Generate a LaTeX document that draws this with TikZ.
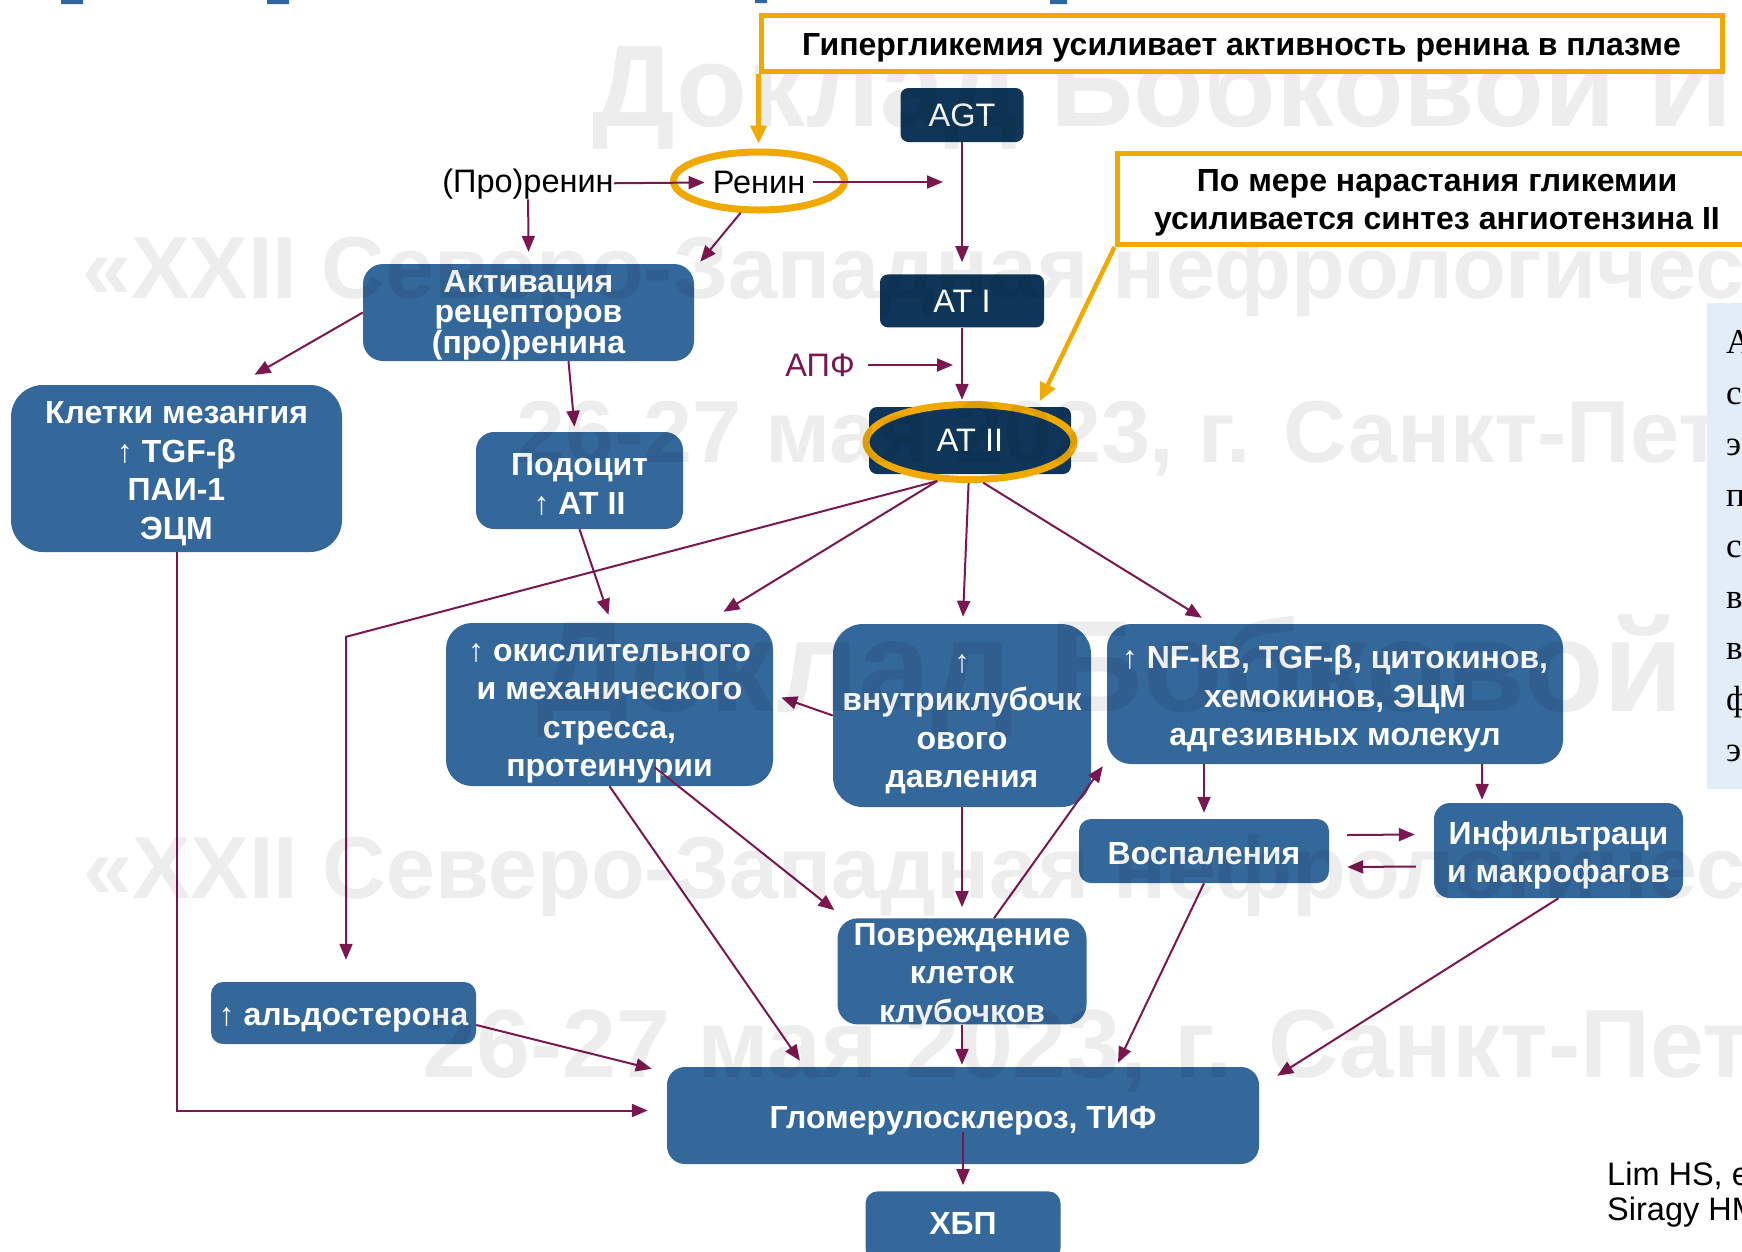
\documentclass[tikz,border=0pt]{standalone}
\usepackage{fontspec}
\setmainfont{Liberation Sans}
\newfontfamily\panelfont{Liberation Serif}
\usetikzlibrary{shapes,arrows,arrows.meta,calc,positioning}

\definecolor{boxblue}{HTML}{34679A}
\definecolor{navy}{HTML}{0F3659}
\definecolor{plum}{HTML}{7A1750}
\definecolor{gold}{HTML}{EFA900}
\definecolor{panel}{HTML}{E2EDF8}
\definecolor{titleblue}{HTML}{2D66A3}

\begin{document}
\begin{tikzpicture}[
    x=1pt, y=-1pt,
    >={Triangle[length=16pt,width=13pt]},
    every node/.style={inner sep=0pt, font=\fontsize{32.5}{38}\selectfont},
    box/.style={rectangle, rounded corners=18pt, fill=boxblue, text=white, align=center,
        font=\bfseries\fontsize{32}{38.5}\selectfont},
    dark/.style={rectangle, rounded corners=8pt, fill=navy, text=white},
    note/.style={rectangle, draw=gold, line width=5pt, fill=white, align=center,
        font=\bfseries\fontsize{32}{38}\selectfont},
    ring/.style={ellipse, draw=gold, line width=7pt},
    link/.style={->, draw=plum, line width=2pt},
    hint/.style={-{Triangle[length=18pt,width=16pt]}, draw=gold, line width=4.5pt},
    stamp/.style={anchor=base west, text=black, text opacity=0.07,
        font=\bfseries\fontsize{88}{88}\selectfont}
    ]
    \useasboundingbox (0,0) rectangle (1742,1251);
    % cut title
    \fill[titleblue] (61,0) rectangle (83,4) (267,0) rectangle (289,4)
        (755,0) rectangle (767,3) (1050,0) rectangle (1067,4);
    % RAS chain
    \node[dark, minimum width=123pt, minimum height=54pt] (agt) at (962,115) {AGT};
    \node[dark, minimum width=164pt, minimum height=53pt, below=132pt of agt] (at1) {AT I};
    \node[dark, minimum width=202pt, minimum height=67pt] (at2) at (970,440.5) {AT II};
    \node[ring, minimum width=208pt, minimum height=75pt] (at2ring) at (970,442) {};
    \node[text=plum] (apf) at (820,365) {АПФ};
    \node (prorenin) at (528,184) {(Про)ренин};
    \node[inner sep=8pt] (renin) at (759,182) {Ренин};
    \node[ring, minimum width=171pt, minimum height=58pt] (rring) at (759,181) {};
    \coordinate (agtjoin) at ($(renin -| agt)+(-19,0)$);
    \coordinate (apfjoin) at ($(apf -| at1)+(-9,0)$);
    \draw[link] (prorenin) -- (renin);
    \draw[link] (renin) -- (agtjoin);
    \draw[link] (agt) -- ($(at1.north)+(0,-12)$);
    \draw[link] ($(apf.east)+(13,0)$) -- (apfjoin);
    \draw[link] (at1.south) -- ($(at2.north -| at1.south)+(0,-7)$);
    % (pro)renin receptor
    \node[box, rounded corners=20pt, minimum width=331pt, minimum height=97pt, text height=88pt,
        font=\bfseries\fontsize{32}{30.5}\selectfont] (act) at (528.5,312.5)
        {Активация\\рецепторов\\(про)ренина};
    \node[box, rounded corners=32pt, minimum width=331pt, minimum height=167pt, text height=148pt] (mes)
        at (176.5,468.5) {Клетки мезангия\\↑ TGF-β\\ПАИ-1\\ЭЦМ};
    \node[box, minimum width=207pt, minimum height=97pt, text height=68pt] (pod) at (579.5,480.5)
        {Подоцит\\↑ AT II};
    \draw[link] (prorenin) -- ($(act.north)+(0,-12)$);
    \draw[link] (rring.240) -- ($(act.north east)+(6,-2)$);
    \draw[link] (act.west) -- ($(mes.north)+(78,-10)$);
    \draw[link] ($(act.south)+(40,0)$) -- ($(pod.north)+(-5,-5)$);
    % effects of AT II
    \node[box, rounded corners=26pt, minimum width=327pt, minimum height=163pt, text height=151pt] (ox)
        at (609.5,704.5) {↑ окислительного\\и механического\\стресса,\\протеинурии};
    \node[box, rounded corners=30pt, minimum width=258pt, minimum height=183pt, text height=151pt] (press)
        at (962,715.5) {↑\\внутриклубочк\\ового\\давления};
    \node[box, rounded corners=24pt, minimum width=456pt, minimum height=140pt, text height=110pt] (nfkb)
        at (1335,694) {↑ NF-kB, TGF-β, цитокинов,\\хемокинов, ЭЦМ\\адгезивных молекул};
    \node[box, rounded corners=12pt, minimum width=250pt, minimum height=64pt, text height=27pt] (infl)
        at (1204,851) {Воспаления};
    \node[box, rounded corners=16pt, minimum width=249pt, minimum height=95pt, text height=71pt] (infil)
        at (1558.5,850.5) {Инфильтраци\\и макрофагов};
    \node[box, rounded corners=20pt, minimum width=249pt, minimum height=106pt, text height=104pt,
        text depth=2pt, below=111pt of press] (dmg) {Повреждение\\клеток\\клубочков};
    \node[box, rounded corners=12pt, minimum width=265pt, minimum height=62pt, text height=32pt] (ald)
        at (343.5,1013) {↑ альдостерона};
    \coordinate (aldbend) at ($(ald.north)+(2.5,-345)$);
    \draw[link] (pod.south) -- ($(ox.north)+(-1,-8)$);
    \draw[link] (at2ring.230) -- ($(ox.north)+(114,-11)$);
    \draw[link] (at2ring.230) -- (aldbend) -- ($(ald.north)+(2.5,-22)$);
    \draw[link] (at2ring.268) -- ($(press.north)+(1,-7)$);
    \draw[link] (at2ring.288) -- ($(nfkb.north west)+(95,-6)$);
    \draw[link] (press.west) -- ($(ox.east)+(8,-7)$);
    \draw[link] (infl.north |- nfkb.south) -- ($(infl.north)+(0,-6)$);
    \draw[link] ($(nfkb.south east)+(-81,0)$) -- ($(infil.north)+(-76.5,-3)$);
    \draw[link] ($(infl.east)+(18,-16)$) -- ($(infil.west)+(-19,-16)$);
    \draw[link] ($(infil.west)+(-18,16)$) -- ($(infl.east)+(18,16)$);
    \draw[link] (press.south) -- ($(dmg.north)+(0,-11)$);
    \draw[link] ($(dmg.north)+(32,0)$) -- ($(nfkb.south west)+(-4,2)$);
    \draw[link] ($(ox.south)+(45,-19)$) -- ($(dmg.north west)+(-3,-8)$);
    % outcome
    \node[box, minimum width=592pt, minimum height=97pt, text height=32pt] (gs) at (963,1115.5)
        {Гломерулосклероз, ТИФ};
    \node[box, rounded corners=12pt, minimum width=195pt, minimum height=69pt, text height=17pt,
        below=27pt of gs] (ckd) {ХБП};
    \draw[link] (ox.south) -- ($(gs.north)+(-163,-6)$);
    \draw[link] (mes.south) |- ($(gs.west)+(-19,-5)$);
    \draw[link] ($(ald.east)+(0,12)$) -- ($(gs.north west)+(-15,2)$);
    \draw[link] (dmg.south) -- ($(dmg.south |- gs.north)+(0,-2)$);
    \draw[link] (infl.south) -- ($(gs.north)+(155,-4)$);
    \draw[link] (infil.south) -- ($(gs.north east)+(18,9)$);
    \draw[link] ($(gs.south)+(0,-32)$) -- ($(ckd.north)+(0,-6)$);
    % watermark
    \node[stamp, font=\bfseries\fontsize{116}{116}\selectfont] (wm1) at (592,126) {Доклад Бобковой И};
    \node[stamp] (wm2) at (82,298) {«XXII Северо-Западная нефрологичес};
    \node[stamp] (wm3) at (516,462) {26-27 мая 2023, г. Санкт-Пете};
    \node[stamp, font=\bfseries\fontsize{130}{130}\selectfont] (wm4) at (536,711) {Доклад Бобковой И};
    \node[stamp] (wm5) at (83,898) {«XXII Северо-Западная нефрологическ};
    \node[stamp, font=\bfseries\fontsize{97}{97}\selectfont] (wm6) at (422,1077) {26-27 мая 2023, г. Санкт-Пет};
    % hints
    \node[note, minimum width=961pt, minimum height=56pt, text height=31pt] (note1) at (1241.5,43)
        {Гипергликемия усиливает активность ренина в плазме};
    \node[note, minimum width=640pt, minimum height=91pt, text height=68pt] (note2) at (1437,199)
        {По мере нарастания гликемии\\усиливается синтез ангиотензина II};
    \draw[hint] (note1.south west) -- ($(note1.south west |- rring.north)+(0,-5)$);
    \draw[hint] (note2.south west) -- ($(at2ring.north east)+(-6,-12)$);
    % side panel
    \fill[panel] (1707,303) rectangle (1750,789);
    \node[anchor=base west, font=\panelfont\fontsize{35}{35}\selectfont] (pl0) at (1726,353) {А};
    \node[anchor=base west, font=\panelfont\fontsize{35}{35}\selectfont] (pl1) at (1726,404) {с};
    \node[anchor=base west, font=\panelfont\fontsize{35}{35}\selectfont] (pl2) at (1726,455) {э};
    \node[anchor=base west, font=\panelfont\fontsize{35}{35}\selectfont] (pl3) at (1726,506) {п};
    \node[anchor=base west, font=\panelfont\fontsize{35}{35}\selectfont] (pl4) at (1726,557) {с};
    \node[anchor=base west, font=\panelfont\fontsize{35}{35}\selectfont] (pl5) at (1726,608) {в};
    \node[anchor=base west, font=\panelfont\fontsize{35}{35}\selectfont] (pl6) at (1726,659) {в};
    \node[anchor=base west, font=\panelfont\fontsize{35}{35}\selectfont] (pl7) at (1726,710) {ф};
    \node[anchor=base west, font=\panelfont\fontsize{35}{35}\selectfont] (pl8) at (1726,761) {э};
    % references
    \node[anchor=base west] (ref1) at (1607,1185) {Lim HS, e};
    \node[anchor=base west] (ref2) at (1607,1220) {Siragy HM};
\end{tikzpicture}
\end{document}
